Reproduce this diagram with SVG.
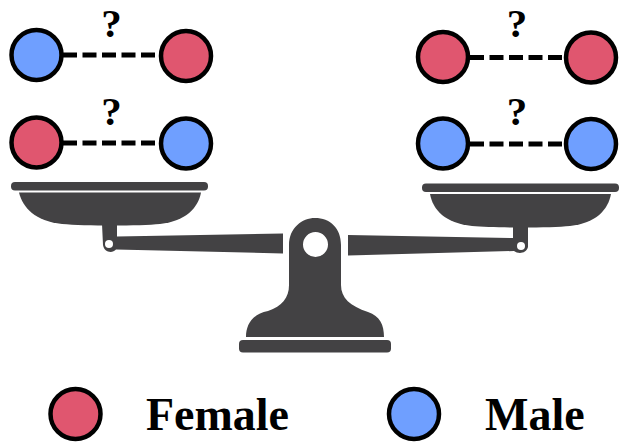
<svg xmlns="http://www.w3.org/2000/svg" width="626" height="445" viewBox="0 0 626 445">
<style>
.f{fill:#e0566f}.m{fill:#6f9fff}
.n{stroke:#000;stroke-width:4.500}
.l{stroke:#000;stroke-width:5;stroke-dasharray:14 5.500;fill:none}
.q{font-family:"Liberation Serif",serif;font-weight:bold;font-size:41px;text-anchor:middle;fill:#000}
.t{font-family:"Liberation Serif",serif;font-weight:bold;font-size:46px;fill:#000}
.s{fill:#434244}
</style>
<rect width="626" height="445" fill="#fff"/>
<g id="connectors">
<path class="l" d="M63 55H156"/>
<path class="l" d="M63 143H156"/>
<path class="l" d="M470 57.500H563"/>
<path class="l" d="M470 144H563"/>
</g>
<g id="scale">
<rect class="s" x="11" y="182" width="197" height="8.500" rx="4"/>
<path class="s" d="M19 192.500H201C198 208 186 221 160 224C140 226 85 226 62 224C35 221 23 208 19 192.500Z"/>
<path class="s" d="M102 224H117V236.500L283 233.500V253.500L116 249.500C112 254 104 252 103 245Z"/>
<circle cx="109" cy="244" r="4" fill="#fff"/>
<rect class="s" x="422" y="183.500" width="197" height="8.500" rx="4"/>
<path class="s" d="M430 194H611C608 210 596 223 570 226C550 228 495 228 472 226C445 223 433 210 430 194Z"/>
<path class="s" d="M513 226H528V247C526 254 518 254 514 251L348 255.500V235L513 238Z"/>
<circle cx="521" cy="246" r="4" fill="#fff"/>
<path class="s" fill-rule="evenodd" d="M289 337V245C289 228 302 218 315 218C330 218 341 228 341 245V285C341 298 350 306 368 312C380 316 384 325 384 337H246C246 325 252 314 268 311C282 306 289 298 289 285ZM303 244.500A12.500 12.500 0 1 0 328 244.500A12.500 12.500 0 1 0 303 244.500Z"/>
<rect class="s" x="239" y="340" width="152" height="12.500" rx="4"/>
</g>
<g id="n1"><circle class="n m" cx="36.500" cy="55" r="25"/></g>
<g id="n2"><circle class="n f" cx="186" cy="56" r="25"/></g>
<text class="q" x="111.500" y="37">?</text>
<g id="n3"><circle class="n f" cx="36.500" cy="142.500" r="25"/></g>
<g id="n4"><circle class="n m" cx="186" cy="143.500" r="25"/></g>
<text class="q" x="111.500" y="125">?</text>
<g id="n5"><circle class="n f" cx="443" cy="57" r="25"/></g>
<g id="n6"><circle class="n f" cx="591" cy="57.500" r="25"/></g>
<text class="q" x="517" y="37">?</text>
<g id="n7"><circle class="n m" cx="443" cy="143.500" r="25"/></g>
<g id="n8"><circle class="n m" cx="591" cy="144" r="25"/></g>
<text class="q" x="517" y="125">?</text>
<g id="legend-female"><circle class="n f" cx="75.500" cy="414" r="25"/><text class="t" x="146" y="430">Female</text></g>
<g id="legend-male"><circle class="n m" cx="414" cy="414" r="25"/><text class="t" x="485" y="430">Male</text></g>
</svg>
